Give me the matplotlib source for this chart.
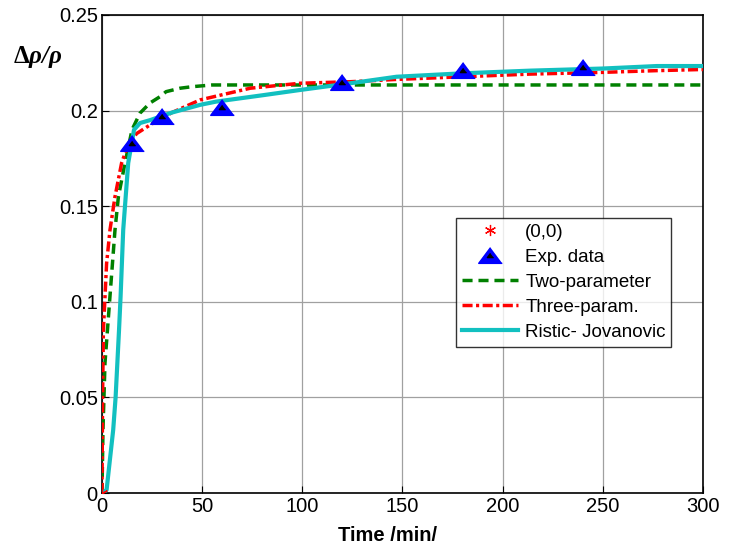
import numpy as np
import matplotlib
matplotlib.use('Agg')
import matplotlib.pyplot as plt

plt.rcParams['font.family'] = ['Liberation Sans', 'DejaVu Sans']
plt.rcParams['mathtext.fontset'] = 'custom'
plt.rcParams['mathtext.rm'] = 'Liberation Serif'
plt.rcParams['mathtext.bf'] = 'Liberation Serif:bold'
plt.rcParams['mathtext.bfit'] = 'Liberation Serif:bold:italic'

# experimental points
t_exp = [15, 30, 60, 120, 180, 240]
v_exp = [0.183, 0.197, 0.202, 0.215, 0.221, 0.223]

# two-parameter model
t_two = [0, 0.5, 1.5, 4, 6.5, 8.2, 11.5, 15, 19, 24, 29, 32, 39, 45, 55, 300]
v_two = [0, 0.033, 0.068, 0.103, 0.1376, 0.155, 0.1726, 0.19, 0.1987, 0.204,
         0.2073, 0.2099, 0.2117, 0.2125, 0.2134, 0.2134]

# three-parameter model
t_three = [0, 0.3, 0.7, 2.3, 4, 6.5, 9.8, 13, 17.3, 24, 35, 49, 74, 99, 124,
           147, 180, 214, 250, 277, 300]
v_three = [0, 0.05, 0.085, 0.12, 0.1376, 0.155, 0.1726, 0.182, 0.188, 0.1925,
           0.199, 0.2056, 0.2117, 0.2143, 0.2151, 0.2163, 0.2177, 0.2191,
           0.2200, 0.2209, 0.2215]

# Ristic-Jovanovic model
t_rj = [0, 2.3, 5.6, 6.8, 8.5, 9.3, 10.6, 13.1, 16, 19, 24, 35, 49, 57, 80,
        99, 124, 147, 180, 214, 250, 277, 300]
v_rj = [0, 0.0016, 0.033, 0.05, 0.085, 0.103, 0.1376, 0.1726, 0.19, 0.1935,
        0.195, 0.199, 0.203, 0.2047, 0.208, 0.2108, 0.2143, 0.2177, 0.2195,
        0.2209, 0.2220, 0.2233, 0.2233]

xticks = [0, 50, 100, 150, 200, 250, 300]
yticks = [0, 0.05, 0.1, 0.15, 0.2, 0.25]
ytick_labels = ['0', '0.05', '0.1', '0.15', '0.2', '0.25']

fig = plt.figure(figsize=(7.31, 5.47), dpi=100)
ax = fig.add_axes([0.1395, 0.0987, 0.8222, 0.8739])

tri = [(0, 0.667), (-1, -0.667), (1, -0.667)]

h_zero, = ax.plot([0], [0], linestyle='none', marker=(6, 2, 0), color='red',
                  ms=8, mew=0.9, zorder=6)
h_exp, = ax.plot(t_exp, v_exp, linestyle='none', marker=tri, ms=17,
                 mfc='blue', mec='blue', zorder=5)
h_in, = ax.plot(t_exp, v_exp, linestyle='none', marker=tri, ms=4.5,
                mfc='black', mec='black', zorder=5.5)
h_two, = ax.plot(t_two, v_two, color='#008000', lw=2.5, ls=(0, (2.9, 1.7)),
                 zorder=3)
h_three, = ax.plot(t_three, v_three, color='red', lw=2.5,
                   ls=(0, (2.9, 1.0, 0.9, 1.0)), zorder=3)
h_rj, = ax.plot(t_rj, v_rj, color='#12c0c0', lw=3.0, zorder=4)

ax.set_xlim(0, 300)
ax.set_ylim(0, 0.25)
ax.set_xticks(xticks)
ax.set_yticks(yticks)
ax.set_yticklabels(ytick_labels)
ax.tick_params(direction='in', labelsize=14.5, length=5, width=0.8, pad=3)
ax.grid(True, color='#a0a0a0', lw=0.9, ls='-')
for s in ax.spines.values():
    s.set_linewidth(1.2)

ax.set_xlabel('Time /min/', fontsize=14.5, fontweight='bold')
ax.xaxis.set_label_coords((388 - 102) / 601, -0.07)
fig.text(0.051, 0.895, r'$\mathbf{\Delta}\mathbfit{\rho/\rho}$', fontsize=18,
         ha='center', va='center')

leg = ax.legend([h_zero, (h_exp, h_in), h_two, h_three, h_rj],
                ['(0,0)', 'Exp. data', 'Two-parameter', 'Three-param.',
                 'Ristic- Jovanovic'],
                loc='upper left', bbox_to_anchor=(0.589, 0.575), fontsize=13.5,
                frameon=True, fancybox=False, edgecolor='black',
                handlelength=3.0, labelspacing=0.42, borderpad=0.3,
                handletextpad=0.4, borderaxespad=0)
leg.get_frame().set_linewidth(1.0)

fig.savefig('out.png', dpi=100)
